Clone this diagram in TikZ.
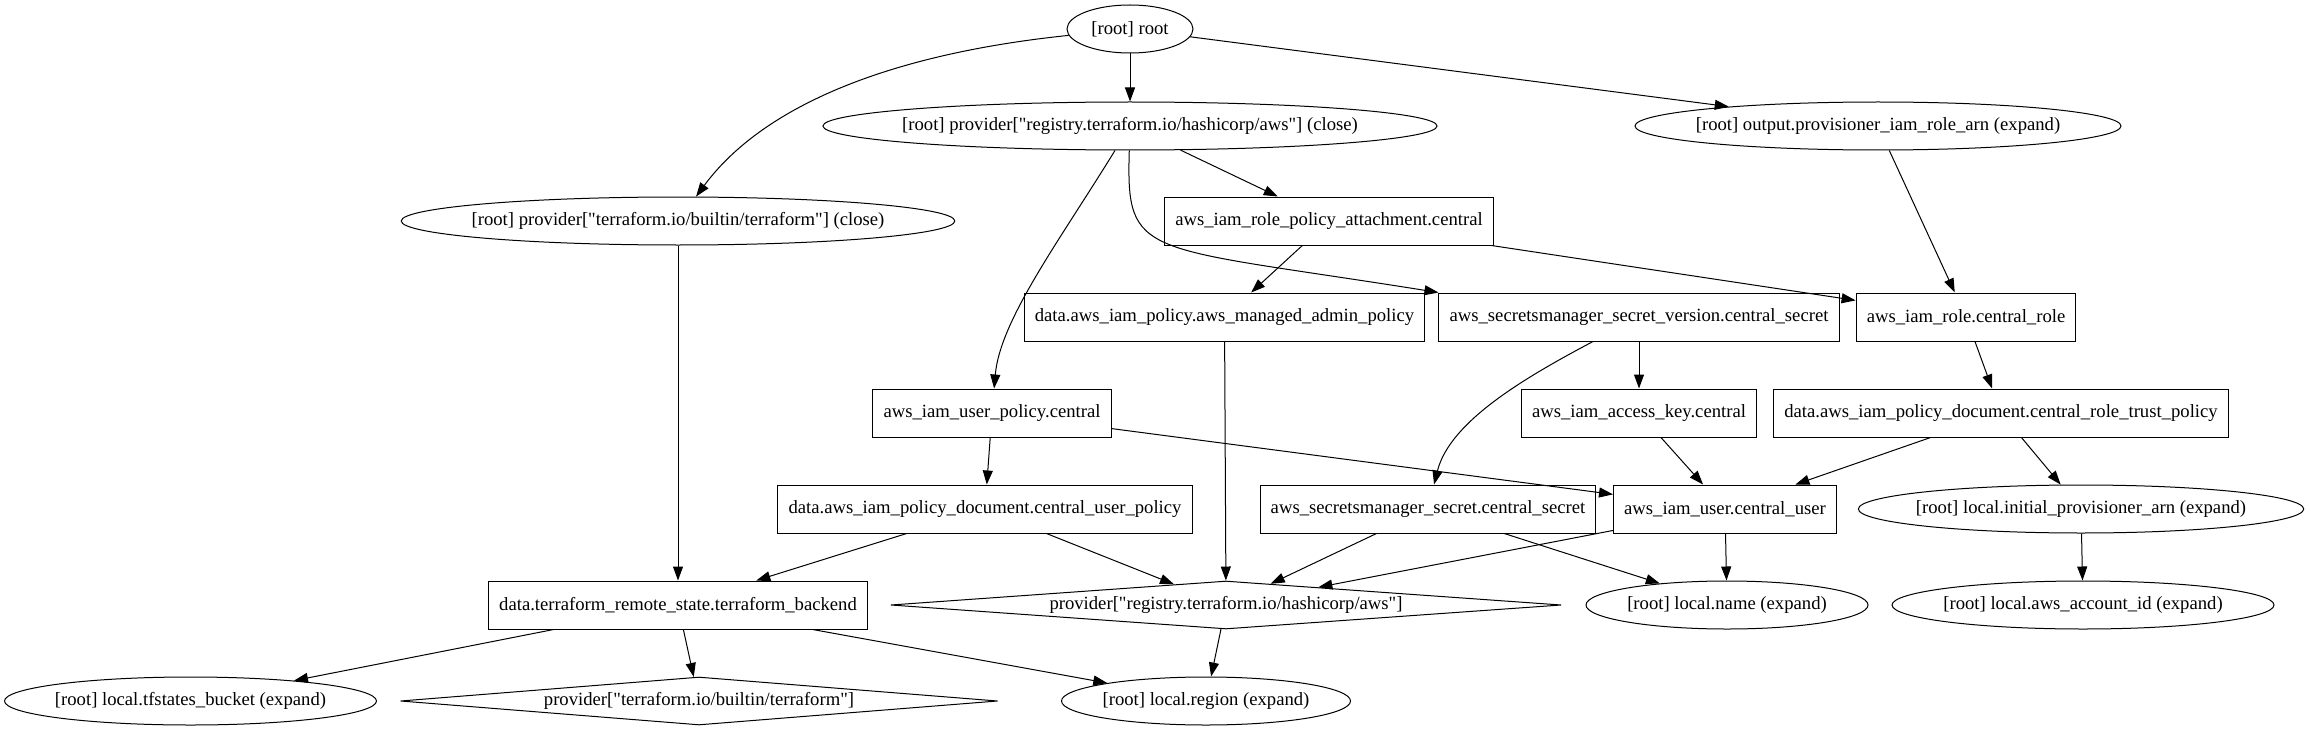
\documentclass[tikz,border=0pt]{standalone}
\usepackage{fontspec}
\setmainfont{Liberation Serif}[Ligatures=TeXOff]
\usetikzlibrary{arrows.meta,shapes.geometric}
\definecolor{ink}{RGB}{0,0,0}
\newcommand{\gvfont}{\fontsize{14pt}{16pt}\selectfont}
\tikzset{
  box/.style={draw=ink, rectangle, inner xsep=8pt, inner ysep=0pt, minimum height=36pt,
    font=\gvfont, text=ink, line width=0.75pt},
  ell/.style={draw=ink, ellipse, inner xsep=-8pt, inner ysep=0pt, minimum height=36pt,
    font=\gvfont, text=ink, line width=0.75pt},
  dia/.style={draw=ink, diamond, shape aspect=14, inner sep=0pt, minimum height=36pt,
    font=\gvfont, text=ink, line width=0.75pt},
  flow/.style={-{Triangle[length=10.5pt,width=7.5pt]}, line width=0.75pt, draw=ink},
}
\begin{document}
\begin{tikzpicture}[x=0.75pt,y=-0.75pt]
  \useasboundingbox (0,0) rectangle (2311,731);
  % top
  \node[ell, minimum width=94.5pt] (root) at (1130,29) {[root] root};
  \node[ell, minimum width=454.5pt] (pawsc) at (1130,126) {[root] provider["registry.terraform.io/hashicorp/aws"] (close)};
  \node[ell, minimum width=364.5pt] (outarn) at (1878,126) {[root] output.provisioner\_iam\_role\_arn (expand)};
  \node[ell, minimum width=414pt] (ptfc) at (678,221) {[root] provider["terraform.io/builtin/terraform"] (close)};
  \node[box] (attach) at (1329,221) {aws\_iam\_role\_policy\_attachment.central};
  % middle
  \node[box] (adminpol) at (1224.5,317) {data.aws\_iam\_policy.aws\_managed\_admin\_policy};
  \node[box] (secver) at (1639,317) {aws\_secretsmanager\_secret\_version.central\_secret};
  \node[box] (role) at (1966,317) {aws\_iam\_role.central\_role};
  \node[box] (userpol) at (992,413) {aws\_iam\_user\_policy.central};
  \node[box] (akey) at (1639,413) {aws\_iam\_access\_key.central};
  \node[box] (trustpol) at (2001,413) {data.aws\_iam\_policy\_document.central\_role\_trust\_policy};
  \node[box] (userdoc) at (985,509) {data.aws\_iam\_policy\_document.central\_user\_policy};
  \node[box] (secret) at (1428,509) {aws\_secretsmanager\_secret.central\_secret};
  \node[box] (user) at (1725,509) {aws\_iam\_user.central\_user};
  \node[ell, minimum width=334pt] (initarn) at (2081,509) {[root] local.initial\_provisioner\_arn (expand)};
  % bottom
  \node[box] (remote) at (678,605) {data.terraform\_remote\_state.terraform\_backend};
  \node[dia, minimum width=503pt] (paws) at (1226,605) {provider["registry.terraform.io/hashicorp/aws"]};
  \node[ell, minimum width=211.5pt] (lname) at (1727,605) {[root] local.name (expand)};
  \node[ell, minimum width=286.5pt] (acctid) at (2083,605) {[root] local.aws\_account\_id (expand)};
  \node[ell, minimum width=279pt] (tfbucket) at (190.5,701) {[root] local.tfstates\_bucket (expand)};
  \node[dia, minimum width=448pt] (ptf) at (699,701) {provider["terraform.io/builtin/terraform"]};
  \node[ell, minimum width=216.75pt] (region) at (1206,701) {[root] local.region (expand)};

  \draw[flow] (root) -- (pawsc);
  \draw[flow] (root) .. controls (880,55) and (760,110) .. (ptfc);
  \draw[flow] (root) -- (outarn);
  \draw[flow] (pawsc) -- (attach);
  \draw[flow] (pawsc) .. controls (1060,240) and (1000,320) .. (userpol);
  \draw[flow] (pawsc) .. controls (1126,260) and (1140,245) .. (secver.north west);
  \draw[flow] (attach) -- (adminpol);
  \draw[flow] (attach) -- (role);
  \draw[flow] (outarn) -- (role);
  \draw[flow] (adminpol) -- (paws);
  \draw[flow] (secver) -- (akey);
  \draw[flow] (secver) .. controls (1530,375) and (1450,420) .. (secret);
  \draw[flow] (role) -- (trustpol);
  \draw[flow] (userpol) -- (user);
  \draw[flow] (userpol) -- (userdoc);
  \draw[flow] (akey) -- (user);
  \draw[flow] (trustpol) -- (user);
  \draw[flow] (trustpol) -- (initarn);
  \draw[flow] (userdoc) -- (remote);
  \draw[flow] (userdoc) -- (paws);
  \draw[flow] (secret) -- (paws);
  \draw[flow] (user) -- (paws);
  \draw[flow] (secret) -- (lname);
  \draw[flow] (user) -- (lname);
  \draw[flow] (initarn) -- (acctid);
  \draw[flow] (ptfc) -- (remote);
  \draw[flow] (remote) -- (tfbucket);
  \draw[flow] (remote) -- (ptf);
  \draw[flow] (remote) -- (region);
  \draw[flow] (paws) -- (region);
\end{tikzpicture}
\end{document}
